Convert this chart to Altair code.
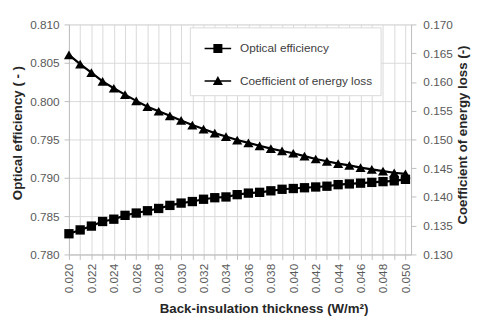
import altair as alt
import pandas as pd

thickness = [0.020, 0.021, 0.022, 0.023, 0.024, 0.025, 0.026, 0.027, 0.028, 0.029,
             0.030, 0.031, 0.032, 0.033, 0.034, 0.035, 0.036, 0.037, 0.038, 0.039,
             0.040, 0.041, 0.042, 0.043, 0.044, 0.045, 0.046, 0.047, 0.048, 0.049, 0.050]

optical_eff = [0.7827, 0.7832, 0.7837, 0.7843, 0.7846, 0.7851, 0.7854, 0.7857, 0.7860, 0.7864,
               0.7867, 0.7869, 0.7872, 0.7874, 0.7875, 0.7878, 0.7880, 0.7881, 0.7883, 0.7885,
               0.7886, 0.7887, 0.7888, 0.7889, 0.7891, 0.7892, 0.7893, 0.7894, 0.7895, 0.7896, 0.7898]

energy_loss = [0.1647, 0.1631, 0.1616, 0.1601, 0.1589, 0.1578, 0.1567, 0.1557, 0.1549, 0.1541,
               0.1533, 0.1525, 0.1518, 0.1511, 0.1505, 0.1499, 0.1494, 0.1489, 0.1484, 0.1480,
               0.1476, 0.1471, 0.1466, 0.1462, 0.1458, 0.1455, 0.1451, 0.1448, 0.1445, 0.1442, 0.1440]

left_ticks = [0.780, 0.785, 0.790, 0.795, 0.800, 0.805, 0.810]
right_ticks = [0.130, 0.135, 0.140, 0.145, 0.150, 0.155, 0.160, 0.165, 0.170]
series_names = ["Optical efficiency", "Coefficient of energy loss"]

df = pd.DataFrame({"t": thickness, "opt": optical_eff, "loss": energy_loss})
legend_df = pd.DataFrame({"series": series_names})

FONT = "Liberation Sans"
LABEL_C = "#595959"
TITLE_C = "#262626"
AXIS_C = "#bfbfbf"
GRID_C = "#d9d9d9"

X = alt.X(
    "t:Q",
    scale=alt.Scale(domain=[0.020, 0.0505], nice=False, zero=False),
    axis=alt.Axis(
        values=thickness,
        labelExpr="round(datum.value*1000) % 2 == 0 ? format(datum.value, '.3f') : ''",
        labelAngle=270, labelFontSize=12, labelColor=LABEL_C, labelFont=FONT,
        labelOverlap=False, labelFlush=False, labelPadding=4,
        tickSize=5, tickColor=AXIS_C, domainColor=AXIS_C,
        grid=True, gridColor=GRID_C,
        title="Back-insulation thickness (W/m²)",
        titleFont=FONT, titleFontSize=13.5, titleFontWeight="bold", titleColor=TITLE_C,
        titleX=198, titleY=59, titleAlign="center", titleBaseline="alphabetic",
    ),
)

YL = alt.Y(
    "opt:Q",
    scale=alt.Scale(domain=[0.780, 0.810], nice=False, zero=False),
    axis=alt.Axis(
        values=left_ticks, format=".3f",
        labelFontSize=12, labelColor=LABEL_C, labelFont=FONT, labelPadding=5,
        tickSize=5, tickColor=AXIS_C, domainColor=AXIS_C,
        grid=True, gridColor=GRID_C,
        title="Optical efficiency ( - )",
        titleFont=FONT, titleFontSize=13.5, titleFontWeight="bold", titleColor=TITLE_C,
        titleAngle=270, titleX=-52, titleY=110, titleAlign="center", titleBaseline="middle",
    ),
)

YR = alt.Y(
    "loss:Q",
    scale=alt.Scale(domain=[0.130, 0.170], nice=False, zero=False),
    axis=alt.Axis(
        orient="right", values=right_ticks, format=".3f",
        labelFontSize=12, labelColor=LABEL_C, labelFont=FONT, labelPadding=7,
        tickSize=5, tickColor=AXIS_C, domainColor=AXIS_C,
        grid=False,
        title="Coefficient of energy loss (-)",
        titleFont=FONT, titleFontSize=13.5, titleFontWeight="bold", titleColor=TITLE_C,
        titleAngle=270, titleX=52, titleY=112, titleAlign="center", titleBaseline="middle",
    ),
)

base = alt.Chart(df)
opt_line = base.mark_line(color="black", strokeWidth=2.2).encode(x=X, y=YL)
opt_pts = base.mark_point(shape="square", filled=True, size=90, color="black", opacity=1).encode(x=X, y=YL)
left = alt.layer(opt_line, opt_pts)

loss_line = base.mark_line(color="black", strokeWidth=2.2).encode(x=X, y=YR)
loss_pts = base.mark_point(shape="triangle-up", filled=True, size=105, color="black", opacity=1).encode(x=X, y=YR)
right = alt.layer(loss_line, loss_pts)

sq_path = "M-1,-0.055L1,-0.055L1,0.055L-1,0.055Z M-0.34,-0.34L0.34,-0.34L0.34,0.34L-0.34,0.34Z"
tri_path = "M-1,-0.055L1,-0.055L1,0.055L-1,0.055Z M0,-0.38L0.38,0.3L-0.38,0.3Z"

legend_layer = alt.Chart(legend_df).transform_filter("false").mark_point(
    filled=True, color="black", size=729, opacity=1
).encode(
    shape=alt.Shape(
        "series:N",
        scale=alt.Scale(domain=series_names, range=[sq_path, tri_path]),
        legend=alt.Legend(
            title=None, orient="none", legendX=123, legendY=3,
            padding=8, rowPadding=13, symbolOffset=7, labelOffset=9,
            symbolSize=729, symbolStrokeWidth=0, symbolFillColor="black",
            labelFont=FONT, labelFontSize=12, labelColor="#404040",
            strokeColor=GRID_C, fillColor="white", labelLimit=300,
        ),
    )
)

chart = alt.layer(left, right, legend_layer).resolve_scale(
    y="independent", shape="independent"
).properties(
    width=348, height=234,
    autosize=alt.AutoSizeParams(type="none"),
    padding={"left": 62, "top": 14, "right": 62, "bottom": 66},
).configure_view(strokeWidth=0).configure(background="white")

chart.save("out.html", embed_options={"renderer": "svg", "actions": False})
